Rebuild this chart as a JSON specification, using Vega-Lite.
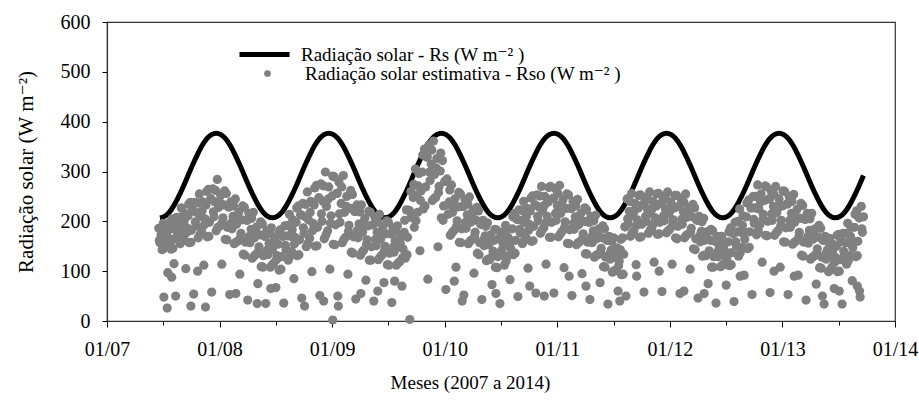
{
  "$schema": "https://vega.github.io/schema/vega-lite/v6.json",
  "autosize": "none",
  "width": 788,
  "height": 299,
  "padding": {"left": 107, "top": 22, "right": 24, "bottom": 81},
  "background": "white",
  "config": {
    "font": "Liberation Serif",
    "view": {"stroke": "#333", "strokeWidth": 1.2},
    "axis": {"grid": false, "domainColor": "#333", "domainWidth": 1.2, "tickColor": "#000", "labelColor": "#000", "titleColor": "#000", "labelFont": "Liberation Serif", "titleFont": "Liberation Serif, DejaVu Serif, serif", "labelFontSize": 20, "titleFontSize": 20, "titleFontWeight": "normal"}
  },
  "datasets": {
    "rs": [
      {"x":2007.470,"y":207},{"x":2007.512,"y":210},{"x":2007.553,"y":218},{"x":2007.595,"y":232},{"x":2007.637,"y":250},{"x":2007.678,"y":270},{"x":2007.720,"y":292},{"x":2007.762,"y":314},{"x":2007.803,"y":334},{"x":2007.845,"y":352},{"x":2007.887,"y":366},{"x":2007.928,"y":374},{"x":2007.970,"y":377},
      {"x":2008.012,"y":374},{"x":2008.053,"y":366},{"x":2008.095,"y":352},{"x":2008.137,"y":334},{"x":2008.178,"y":314},{"x":2008.220,"y":292},{"x":2008.262,"y":270},{"x":2008.303,"y":250},{"x":2008.345,"y":232},{"x":2008.387,"y":218},{"x":2008.428,"y":210},{"x":2008.470,"y":207},{"x":2008.512,"y":210},{"x":2008.553,"y":218},{"x":2008.595,"y":232},{"x":2008.637,"y":250},{"x":2008.678,"y":270},{"x":2008.720,"y":292},{"x":2008.762,"y":314},{"x":2008.803,"y":334},{"x":2008.845,"y":352},{"x":2008.887,"y":366},{"x":2008.928,"y":374},{"x":2008.970,"y":377},
      {"x":2009.012,"y":374},{"x":2009.053,"y":366},{"x":2009.095,"y":352},{"x":2009.137,"y":334},{"x":2009.178,"y":314},{"x":2009.220,"y":292},{"x":2009.262,"y":270},{"x":2009.303,"y":250},{"x":2009.345,"y":232},{"x":2009.387,"y":218},{"x":2009.428,"y":210},{"x":2009.470,"y":207},{"x":2009.512,"y":210},{"x":2009.553,"y":218},{"x":2009.595,"y":232},{"x":2009.637,"y":250},{"x":2009.678,"y":270},{"x":2009.720,"y":292},{"x":2009.762,"y":314},{"x":2009.803,"y":334},{"x":2009.845,"y":352},{"x":2009.887,"y":366},{"x":2009.928,"y":374},{"x":2009.970,"y":377},
      {"x":2010.012,"y":374},{"x":2010.053,"y":366},{"x":2010.095,"y":352},{"x":2010.137,"y":334},{"x":2010.178,"y":314},{"x":2010.220,"y":292},{"x":2010.262,"y":270},{"x":2010.303,"y":250},{"x":2010.345,"y":232},{"x":2010.387,"y":218},{"x":2010.428,"y":210},{"x":2010.470,"y":207},{"x":2010.512,"y":210},{"x":2010.553,"y":218},{"x":2010.595,"y":232},{"x":2010.637,"y":250},{"x":2010.678,"y":270},{"x":2010.720,"y":292},{"x":2010.762,"y":314},{"x":2010.803,"y":334},{"x":2010.845,"y":352},{"x":2010.887,"y":366},{"x":2010.928,"y":374},{"x":2010.970,"y":377},
      {"x":2011.012,"y":374},{"x":2011.053,"y":366},{"x":2011.095,"y":352},{"x":2011.137,"y":334},{"x":2011.178,"y":314},{"x":2011.220,"y":292},{"x":2011.262,"y":270},{"x":2011.303,"y":250},{"x":2011.345,"y":232},{"x":2011.387,"y":218},{"x":2011.428,"y":210},{"x":2011.470,"y":207},{"x":2011.512,"y":210},{"x":2011.553,"y":218},{"x":2011.595,"y":232},{"x":2011.637,"y":250},{"x":2011.678,"y":270},{"x":2011.720,"y":292},{"x":2011.762,"y":314},{"x":2011.803,"y":334},{"x":2011.845,"y":352},{"x":2011.887,"y":366},{"x":2011.928,"y":374},{"x":2011.970,"y":377},
      {"x":2012.012,"y":374},{"x":2012.053,"y":366},{"x":2012.095,"y":352},{"x":2012.137,"y":334},{"x":2012.178,"y":314},{"x":2012.220,"y":292},{"x":2012.262,"y":270},{"x":2012.303,"y":250},{"x":2012.345,"y":232},{"x":2012.387,"y":218},{"x":2012.428,"y":210},{"x":2012.470,"y":207},{"x":2012.512,"y":210},{"x":2012.553,"y":218},{"x":2012.595,"y":232},{"x":2012.637,"y":250},{"x":2012.678,"y":270},{"x":2012.720,"y":292},{"x":2012.762,"y":314},{"x":2012.803,"y":334},{"x":2012.845,"y":352},{"x":2012.887,"y":366},{"x":2012.928,"y":374},{"x":2012.970,"y":377},
      {"x":2013.012,"y":374},{"x":2013.053,"y":366},{"x":2013.095,"y":352},{"x":2013.137,"y":334},{"x":2013.178,"y":314},{"x":2013.220,"y":292},{"x":2013.262,"y":270},{"x":2013.303,"y":250},{"x":2013.345,"y":232},{"x":2013.387,"y":218},{"x":2013.428,"y":210},{"x":2013.470,"y":207},{"x":2013.512,"y":210},{"x":2013.553,"y":218},{"x":2013.595,"y":232},{"x":2013.637,"y":250},{"x":2013.678,"y":270},{"x":2013.720,"y":292}
    ],
    "rso": [
      {"x":2007.46,"y":186},{"x":2007.47,"y":157},{"x":2007.48,"y":173},{"x":2007.49,"y":143},{"x":2007.50,"y":196},{"x":2007.51,"y":169},{"x":2007.52,"y":151},{"x":2007.53,"y":186},{"x":2007.54,"y":97},
      {"x":2007.55,"y":166},{"x":2007.56,"y":184},{"x":2007.57,"y":144},{"x":2007.58,"y":205},{"x":2007.59,"y":164},{"x":2007.60,"y":195},{"x":2007.61,"y":50},{"x":2007.62,"y":208},{"x":2007.63,"y":172},{"x":2007.64,"y":193},{"x":2007.65,"y":155},{"x":2007.66,"y":227},{"x":2007.67,"y":190},{"x":2007.68,"y":166},{"x":2007.69,"y":216},
      {"x":2007.70,"y":105},{"x":2007.71,"y":187},{"x":2007.72,"y":211},{"x":2007.73,"y":157},{"x":2007.74,"y":238},{"x":2007.75,"y":182},{"x":2007.76,"y":221},{"x":2007.77,"y":54},{"x":2007.78,"y":238},{"x":2007.79,"y":191},{"x":2007.80,"y":217},{"x":2007.81,"y":167},{"x":2007.82,"y":255},{"x":2007.83,"y":210},{"x":2007.84,"y":180},
      {"x":2007.85,"y":239},{"x":2007.86,"y":112},{"x":2007.87,"y":205},{"x":2007.88,"y":233},{"x":2007.89,"y":169},{"x":2007.90,"y":264},{"x":2007.91,"y":198},{"x":2007.92,"y":245},{"x":2007.93,"y":58},{"x":2007.94,"y":265},{"x":2007.95,"y":209},{"x":2007.96,"y":239},{"x":2007.97,"y":181},
      {"x":2007.98,"y":284},{"x":2007.99,"y":228},{"x":2008.00,"y":190},{"x":2008.01,"y":252},{"x":2008.02,"y":114},{"x":2008.03,"y":207},{"x":2008.04,"y":233},{"x":2008.05,"y":164},{"x":2008.06,"y":256},{"x":2008.07,"y":188},{"x":2008.08,"y":229},{"x":2008.09,"y":53},
      {"x":2008.10,"y":239},{"x":2008.11,"y":185},{"x":2008.12,"y":210},{"x":2008.13,"y":155},{"x":2008.14,"y":245},{"x":2008.15,"y":194},{"x":2008.16,"y":160},{"x":2008.17,"y":218},{"x":2008.18,"y":94},{"x":2008.19,"y":176},{"x":2008.20,"y":203},{"x":2008.21,"y":134},{"x":2008.22,"y":228},{"x":2008.23,"y":158},{"x":2008.24,"y":202},
      {"x":2008.25,"y":42},{"x":2008.26,"y":216},{"x":2008.27,"y":157},{"x":2008.28,"y":184},{"x":2008.29,"y":126},{"x":2008.30,"y":218},{"x":2008.31,"y":167},{"x":2008.32,"y":133},{"x":2008.33,"y":189},{"x":2008.34,"y":75},{"x":2008.35,"y":149},{"x":2008.36,"y":173},{"x":2008.37,"y":109},{"x":2008.38,"y":195},{"x":2008.39,"y":131},
      {"x":2008.40,"y":170},{"x":2008.41,"y":35},{"x":2008.42,"y":182},{"x":2008.43,"y":133},{"x":2008.44,"y":156},{"x":2008.45,"y":108},{"x":2008.46,"y":187},{"x":2008.47,"y":144},{"x":2008.48,"y":116},{"x":2008.49,"y":166},{"x":2008.50,"y":67},{"x":2008.51,"y":131},
      {"x":2008.52,"y":154},{"x":2008.53,"y":102},{"x":2008.54,"y":183},{"x":2008.55,"y":129},{"x":2008.56,"y":170},{"x":2008.57,"y":36},{"x":2008.58,"y":191},{"x":2008.59,"y":143},{"x":2008.60,"y":171},{"x":2008.61,"y":122},{"x":2008.62,"y":214},{"x":2008.63,"y":170},{"x":2008.64,"y":140},
      {"x":2008.65,"y":203},{"x":2008.66,"y":85},{"x":2008.67,"y":168},{"x":2008.68,"y":198},{"x":2008.69,"y":131},{"x":2008.70,"y":231},{"x":2008.71,"y":163},{"x":2008.72,"y":213},{"x":2008.73,"y":46},{"x":2008.74,"y":236},{"x":2008.75,"y":176},{"x":2008.76,"y":209},{"x":2008.77,"y":149},{"x":2008.78,"y":259},{"x":2008.79,"y":203},
      {"x":2008.80,"y":166},{"x":2008.81,"y":240},{"x":2008.82,"y":99},{"x":2008.83,"y":196},{"x":2008.84,"y":233},{"x":2008.85,"y":150},{"x":2008.86,"y":272},{"x":2008.87,"y":188},{"x":2008.88,"y":247},{"x":2008.89,"y":51},{"x":2008.90,"y":275},{"x":2008.91,"y":200},{"x":2008.92,"y":240},{"x":2008.93,"y":165},{"x":2008.94,"y":299},
      {"x":2008.95,"y":230},{"x":2008.96,"y":181},{"x":2008.97,"y":269},{"x":2008.98,"y":104},{"x":2008.99,"y":211},{"x":2009.00,"y":251},{"x":2009.01,"y":154},{"x":2009.02,"y":289},{"x":2009.03,"y":193},{"x":2009.04,"y":256},{"x":2009.05,"y":50},{"x":2009.06,"y":279},{"x":2009.07,"y":198},{"x":2009.08,"y":236},{"x":2009.09,"y":157},
      {"x":2009.10,"y":292},{"x":2009.11,"y":218},{"x":2009.12,"y":168},{"x":2009.13,"y":250},{"x":2009.14,"y":94},{"x":2009.15,"y":192},{"x":2009.16,"y":226},{"x":2009.17,"y":138},{"x":2009.18,"y":254},{"x":2009.19,"y":169},{"x":2009.20,"y":220},{"x":2009.21,"y":44},{"x":2009.22,"y":233},{"x":2009.23,"y":167},{"x":2009.24,"y":195},
      {"x":2009.25,"y":132},{"x":2009.26,"y":233},{"x":2009.27,"y":178},{"x":2009.28,"y":142},{"x":2009.29,"y":206},{"x":2009.30,"y":82},{"x":2009.31,"y":163},{"x":2009.32,"y":191},{"x":2009.33,"y":122},{"x":2009.34,"y":218},{"x":2009.35,"y":149},{"x":2009.36,"y":193},{"x":2009.37,"y":40},{"x":2009.38,"y":208},{"x":2009.39,"y":151},{"x":2009.40,"y":178},{"x":2009.41,"y":123},{"x":2009.42,"y":214},{"x":2009.43,"y":164},{"x":2009.44,"y":132},
      {"x":2009.45,"y":189},{"x":2009.46,"y":77},{"x":2009.47,"y":150},{"x":2009.48,"y":175},{"x":2009.49,"y":113},{"x":2009.50,"y":198},{"x":2009.51,"y":136},{"x":2009.52,"y":175},{"x":2009.53,"y":37},{"x":2009.54,"y":187},{"x":2009.55,"y":138},{"x":2009.56,"y":161},{"x":2009.57,"y":112},{"x":2009.58,"y":191},{"x":2009.59,"y":148},{"x":2009.60,"y":119},{"x":2009.61,"y":169},
      {"x":2009.62,"y":70},{"x":2009.63,"y":145},{"x":2009.64,"y":178},{"x":2009.65,"y":126},{"x":2009.66,"y":223},{"x":2009.67,"y":168},{"x":2009.68,"y":222},{"x":2009.69,"y":3},{"x":2009.70,"y":260},{"x":2009.71,"y":207},
      {"x":2009.72,"y":248},{"x":2009.73,"y":188},{"x":2009.74,"y":305},{"x":2009.75,"y":252},{"x":2009.76,"y":218},{"x":2009.77,"y":296},{"x":2009.78,"y":141},{"x":2009.79,"y":261},{"x":2009.80,"y":299},{"x":2009.81,"y":225},{"x":2009.82,"y":345},{"x":2009.83,"y":269},{"x":2009.84,"y":329},
      {"x":2009.85,"y":84},{"x":2009.86,"y":353},{"x":2009.87,"y":282},{"x":2009.88,"y":315},{"x":2009.89,"y":242},{"x":2009.90,"y":361},{"x":2009.91,"y":294},{"x":2009.92,"y":248},{"x":2009.93,"y":326},{"x":2009.94,"y":149},
      {"x":2009.95,"y":270},{"x":2009.96,"y":301},{"x":2009.97,"y":207},{"x":2009.98,"y":322},{"x":2009.99,"y":231},{"x":2010.00,"y":280},{"x":2010.01,"y":63},{"x":2010.02,"y":285},{"x":2010.03,"y":214},{"x":2010.04,"y":239},
      {"x":2010.05,"y":172},{"x":2010.06,"y":273},{"x":2010.07,"y":218},{"x":2010.08,"y":181},{"x":2010.09,"y":245},{"x":2010.10,"y":108},{"x":2010.11,"y":201},{"x":2010.12,"y":229},{"x":2010.13,"y":158},{"x":2010.14,"y":255},{"x":2010.15,"y":185},{"x":2010.16,"y":230},{"x":2010.17,"y":52},{"x":2010.18,"y":244},{"x":2010.19,"y":186},{"x":2010.20,"y":213},{"x":2010.21,"y":155},{"x":2010.22,"y":249},{"x":2010.23,"y":198},{"x":2010.24,"y":163},
      {"x":2010.25,"y":223},{"x":2010.26,"y":96},{"x":2010.27,"y":178},{"x":2010.28,"y":202},{"x":2010.29,"y":136},{"x":2010.30,"y":221},{"x":2010.31,"y":157},{"x":2010.32,"y":194},{"x":2010.33,"y":43},{"x":2010.34,"y":202},{"x":2010.35,"y":151},{"x":2010.36,"y":171},{"x":2010.37,"y":121},{"x":2010.38,"y":197},{"x":2010.39,"y":153},
      {"x":2010.40,"y":123},{"x":2010.41,"y":173},{"x":2010.42,"y":73},{"x":2010.43,"y":140},{"x":2010.44,"y":162},{"x":2010.45,"y":108},{"x":2010.46,"y":183},{"x":2010.47,"y":129},{"x":2010.48,"y":165},{"x":2010.49,"y":35},{"x":2010.50,"y":178},{"x":2010.51,"y":132},
      {"x":2010.52,"y":154},{"x":2010.53,"y":112},{"x":2010.54,"y":192},{"x":2010.55,"y":155},{"x":2010.56,"y":130},{"x":2010.57,"y":184},{"x":2010.58,"y":83},{"x":2010.59,"y":159},{"x":2010.60,"y":185},{"x":2010.61,"y":133},{"x":2010.62,"y":216},{"x":2010.63,"y":162},{"x":2010.64,"y":204},
      {"x":2010.65,"y":49},{"x":2010.66,"y":223},{"x":2010.67,"y":177},{"x":2010.68,"y":202},{"x":2010.69,"y":155},{"x":2010.70,"y":240},{"x":2010.71,"y":198},{"x":2010.72,"y":169},{"x":2010.73,"y":226},{"x":2010.74,"y":106},{"x":2010.75,"y":194},{"x":2010.76,"y":221},{"x":2010.77,"y":160},{"x":2010.78,"y":251},{"x":2010.79,"y":190},{"x":2010.80,"y":233},{"x":2010.81,"y":56},{"x":2010.82,"y":253},{"x":2010.83,"y":201},{"x":2010.84,"y":229},
      {"x":2010.85,"y":176},{"x":2010.86,"y":270},{"x":2010.87,"y":221},{"x":2010.88,"y":187},{"x":2010.89,"y":250},{"x":2010.90,"y":114},{"x":2010.91,"y":210},{"x":2010.92,"y":239},{"x":2010.93,"y":168},{"x":2010.94,"y":270},{"x":2010.95,"y":198},{"x":2010.96,"y":246},{"x":2010.97,"y":56},
      {"x":2010.98,"y":266},{"x":2010.99,"y":202},{"x":2011.00,"y":232},{"x":2011.01,"y":169},{"x":2011.02,"y":272},{"x":2011.03,"y":216},{"x":2011.04,"y":179},{"x":2011.05,"y":243},{"x":2011.06,"y":107},{"x":2011.07,"y":199},{"x":2011.08,"y":226},{"x":2011.09,"y":156},{"x":2011.10,"y":253},{"x":2011.11,"y":183},{"x":2011.12,"y":226},{"x":2011.13,"y":51},{"x":2011.14,"y":240},
      {"x":2011.15,"y":184},{"x":2011.16,"y":209},{"x":2011.17,"y":153},{"x":2011.18,"y":244},{"x":2011.19,"y":193},{"x":2011.20,"y":159},{"x":2011.21,"y":216},{"x":2011.22,"y":95},{"x":2011.23,"y":175},{"x":2011.24,"y":200},{"x":2011.25,"y":135},{"x":2011.26,"y":223},{"x":2011.27,"y":158},{"x":2011.28,"y":198},{"x":2011.29,"y":43},{"x":2011.30,"y":210},{"x":2011.31,"y":157},{"x":2011.32,"y":181},{"x":2011.33,"y":128},{"x":2011.34,"y":212},
      {"x":2011.35,"y":165},{"x":2011.36,"y":133},{"x":2011.37,"y":185},{"x":2011.38,"y":77},{"x":2011.39,"y":146},{"x":2011.40,"y":167},{"x":2011.41,"y":109},{"x":2011.42,"y":185},{"x":2011.43,"y":128},{"x":2011.44,"y":162},{"x":2011.45,"y":34},{"x":2011.46,"y":170},{"x":2011.47,"y":124},{"x":2011.48,"y":143},{"x":2011.49,"y":98},{"x":2011.50,"y":167},{"x":2011.51,"y":128},
      {"x":2011.52,"y":101},{"x":2011.53,"y":147},{"x":2011.54,"y":60},{"x":2011.55,"y":120},{"x":2011.56,"y":143},{"x":2011.57,"y":93},{"x":2011.58,"y":167},{"x":2011.59,"y":134},{"x":2011.60,"y":189},{"x":2011.61,"y":50},
      {"x":2011.62,"y":245},{"x":2011.63,"y":195},{"x":2011.64,"y":220},{"x":2011.65,"y":170},{"x":2011.66,"y":256},{"x":2011.67,"y":211},{"x":2011.68,"y":181},{"x":2011.69,"y":236},{"x":2011.70,"y":113},{"x":2011.71,"y":203},{"x":2011.72,"y":227},{"x":2011.73,"y":168},{"x":2011.74,"y":253},{"x":2011.75,"y":194},{"x":2011.76,"y":234},{"x":2011.77,"y":58},{"x":2011.78,"y":248},{"x":2011.79,"y":200},{"x":2011.80,"y":225},{"x":2011.81,"y":176},{"x":2011.82,"y":259},{"x":2011.83,"y":216},{"x":2011.84,"y":187},{"x":2011.85,"y":240},{"x":2011.86,"y":118},{"x":2011.87,"y":207},{"x":2011.88,"y":231},{"x":2011.89,"y":174},
      {"x":2011.90,"y":256},{"x":2011.91,"y":198},{"x":2011.92,"y":236},{"x":2011.93,"y":59},{"x":2011.94,"y":250},{"x":2011.95,"y":201},{"x":2011.96,"y":225},{"x":2011.97,"y":177},{"x":2011.98,"y":259},{"x":2011.99,"y":215},{"x":2012.00,"y":184},{"x":2012.01,"y":238},{"x":2012.02,"y":114},{"x":2012.03,"y":203},{"x":2012.04,"y":227},{"x":2012.05,"y":167},{"x":2012.06,"y":252},{"x":2012.07,"y":190},{"x":2012.08,"y":230},{"x":2012.09,"y":55},{"x":2012.10,"y":245},{"x":2012.11,"y":194},{"x":2012.12,"y":219},{"x":2012.13,"y":167},{"x":2012.14,"y":255},
      {"x":2012.15,"y":208},{"x":2012.16,"y":174},{"x":2012.17,"y":228},{"x":2012.18,"y":104},{"x":2012.19,"y":186},{"x":2012.20,"y":209},{"x":2012.21,"y":145},{"x":2012.22,"y":227},{"x":2012.23,"y":165},{"x":2012.24,"y":202},{"x":2012.25,"y":46},{"x":2012.26,"y":210},{"x":2012.27,"y":159},{"x":2012.28,"y":180},{"x":2012.29,"y":130},{"x":2012.30,"y":206},{"x":2012.31,"y":162},{"x":2012.32,"y":131},{"x":2012.33,"y":179},{"x":2012.34,"y":75},
      {"x":2012.35,"y":141},{"x":2012.36,"y":162},{"x":2012.37,"y":108},{"x":2012.38,"y":181},{"x":2012.39,"y":129},{"x":2012.40,"y":160},{"x":2012.41,"y":36},{"x":2012.42,"y":170},{"x":2012.43,"y":129},{"x":2012.44,"y":148},{"x":2012.45,"y":109},{"x":2012.46,"y":170},{"x":2012.47,"y":136},
      {"x":2012.48,"y":114},{"x":2012.49,"y":156},{"x":2012.50,"y":72},{"x":2012.51,"y":136},{"x":2012.52,"y":159},{"x":2012.53,"y":111},{"x":2012.54,"y":187},{"x":2012.55,"y":137},{"x":2012.56,"y":176},{"x":2012.57,"y":39},{"x":2012.58,"y":198},{"x":2012.59,"y":151},{"x":2012.60,"y":179},{"x":2012.61,"y":130},
      {"x":2012.62,"y":225},{"x":2012.63,"y":178},{"x":2012.64,"y":148},{"x":2012.65,"y":211},{"x":2012.66,"y":92},{"x":2012.67,"y":178},{"x":2012.68,"y":209},{"x":2012.69,"y":145},{"x":2012.70,"y":243},{"x":2012.71,"y":179},{"x":2012.72,"y":227},{"x":2012.73,"y":53},{"x":2012.74,"y":250},{"x":2012.75,"y":196},{"x":2012.76,"y":227},{"x":2012.77,"y":173},{"x":2012.78,"y":273},{"x":2012.79,"y":225},
      {"x":2012.80,"y":193},{"x":2012.81,"y":255},{"x":2012.82,"y":118},{"x":2012.83,"y":214},{"x":2012.84,"y":242},{"x":2012.85,"y":172},{"x":2012.86,"y":269},{"x":2012.87,"y":200},{"x":2012.88,"y":245},{"x":2012.89,"y":57},{"x":2012.90,"y":261},{"x":2012.91,"y":202},{"x":2012.92,"y":230},{"x":2012.93,"y":172},{"x":2012.94,"y":270},{"x":2012.95,"y":217},{"x":2012.96,"y":181},{"x":2012.97,"y":245},{"x":2012.98,"y":108},{"x":2012.99,"y":202},{"x":2013.00,"y":231},{"x":2013.01,"y":159},{"x":2013.02,"y":260},{"x":2013.03,"y":187},{"x":2013.04,"y":235},
      {"x":2013.05,"y":53},{"x":2013.06,"y":250},{"x":2013.07,"y":188},{"x":2013.08,"y":216},{"x":2013.09,"y":154},{"x":2013.10,"y":254},{"x":2013.11,"y":198},{"x":2013.12,"y":160},{"x":2013.13,"y":224},{"x":2013.14,"y":92},{"x":2013.15,"y":178},{"x":2013.16,"y":206},{"x":2013.17,"y":132},{"x":2013.18,"y":232},{"x":2013.19,"y":158},
      {"x":2013.20,"y":204},{"x":2013.21,"y":42},{"x":2013.22,"y":216},{"x":2013.23,"y":156},{"x":2013.24,"y":182},{"x":2013.25,"y":124},{"x":2013.26,"y":216},{"x":2013.27,"y":164},{"x":2013.28,"y":130},{"x":2013.29,"y":185},{"x":2013.30,"y":74},{"x":2013.31,"y":145},{"x":2013.32,"y":168},{"x":2013.33,"y":107},{"x":2013.34,"y":186},{"x":2013.35,"y":128},{"x":2013.36,"y":162},{"x":2013.37,"y":34},{"x":2013.38,"y":170},{"x":2013.39,"y":124},{"x":2013.40,"y":143},{"x":2013.41,"y":99},
      {"x":2013.42,"y":166},{"x":2013.43,"y":131},{"x":2013.44,"y":108},{"x":2013.45,"y":154},{"x":2013.46,"y":65},{"x":2013.47,"y":128},{"x":2013.48,"y":150},{"x":2013.49,"y":99},{"x":2013.50,"y":174},{"x":2013.51,"y":123},{"x":2013.52,"y":160},{"x":2013.53,"y":34},{"x":2013.54,"y":176},
      {"x":2013.55,"y":132},{"x":2013.56,"y":157},{"x":2013.57,"y":114},{"x":2013.58,"y":196},{"x":2013.59,"y":157},{"x":2013.60,"y":131},{"x":2013.61,"y":188},{"x":2013.62,"y":81},{"x":2013.63,"y":159},{"x":2013.64,"y":188},{"x":2013.65,"y":129},{"x":2013.66,"y":221},{"x":2013.67,"y":160},{"x":2013.68,"y":207},{"x":2013.69,"y":48},{"x":2013.70,"y":230},{"x":2013.71,"y":178},{"x":2013.72,"y":209},
      {"x":2007.505,"y":48},{"x":2007.535,"y":26},{"x":2007.575,"y":88},{"x":2007.595,"y":115},{"x":2007.745,"y":30},{"x":2007.805,"y":100},{"x":2007.875,"y":28},{"x":2008.145,"y":55},{"x":2008.335,"y":35},{"x":2008.455,"y":65},{"x":2008.755,"y":30},{"x":2008.925,"y":40},{"x":2009.005,"y":2},{"x":2009.055,"y":30},{"x":2009.255,"y":55},{"x":2009.405,"y":60},{"x":2009.555,"y":80},{"x":2010.085,"y":80},{"x":2010.155,"y":40},{"x":2010.455,"y":55},{"x":2010.755,"y":70},{"x":2010.885,"y":50},{"x":2011.105,"y":90},{"x":2011.255,"y":70},{"x":2011.555,"y":40},{"x":2011.705,"y":90},{"x":2011.905,"y":100},{"x":2012.125,"y":60},{"x":2012.305,"y":55},{"x":2012.625,"y":90},{"x":2012.925,"y":100},{"x":2013.105,"y":90},{"x":2013.355,"y":50},{"x":2013.505,"y":60},{"x":2013.685,"y":60},{"x":2013.665,"y":70},
      {"x":2007.465,"y":162},{"x":2007.485,"y":185},{"x":2007.505,"y":146},{"x":2007.525,"y":176},{"x":2007.545,"y":158},{"x":2007.565,"y":200},{"x":2007.585,"y":146},{"x":2007.605,"y":195},{"x":2007.625,"y":178},{"x":2007.645,"y":208},{"x":2007.665,"y":160},{"x":2007.685,"y":201},{"x":2007.705,"y":177},{"x":2007.725,"y":234},{"x":2007.745,"y":158},{"x":2007.765,"y":221},{"x":2007.785,"y":199},{"x":2007.805,"y":237},{"x":2007.825,"y":173},{"x":2007.845,"y":221},{"x":2007.865,"y":193},{"x":2007.885,"y":260},{"x":2007.905,"y":170},{"x":2007.925,"y":245},{"x":2007.945,"y":219},{"x":2007.965,"y":262},{"x":2007.985,"y":188},
      {"x":2008.005,"y":237},{"x":2008.025,"y":198},{"x":2008.045,"y":261},{"x":2008.065,"y":163},{"x":2008.085,"y":229},{"x":2008.105,"y":197},{"x":2008.125,"y":231},{"x":2008.145,"y":158},{"x":2008.165,"y":203},{"x":2008.185,"y":167},{"x":2008.205,"y":231},{"x":2008.225,"y":132},{"x":2008.245,"y":202},{"x":2008.265,"y":170},{"x":2008.285,"y":206},{"x":2008.305,"y":130},{"x":2008.325,"y":176},{"x":2008.345,"y":140},{"x":2008.365,"y":199},{"x":2008.385,"y":108},{"x":2008.405,"y":170},{"x":2008.425,"y":143},{"x":2008.445,"y":176},{"x":2008.465,"y":112},{"x":2008.485,"y":153},{"x":2008.505,"y":123},{"x":2008.525,"y":176},{"x":2008.545,"y":104},{"x":2008.565,"y":170},{"x":2008.585,"y":152},{"x":2008.605,"y":192},{"x":2008.625,"y":130},{"x":2008.645,"y":183},{"x":2008.665,"y":155},{"x":2008.685,"y":227},{"x":2008.705,"y":133},{"x":2008.725,"y":213},{"x":2008.745,"y":187},{"x":2008.765,"y":234},{"x":2008.785,"y":156},{"x":2008.805,"y":218},{"x":2008.825,"y":181},{"x":2008.845,"y":267},{"x":2008.865,"y":151},{"x":2008.885,"y":247},{"x":2008.905,"y":215},{"x":2008.925,"y":271},{"x":2008.945,"y":173},{"x":2008.965,"y":245},{"x":2008.985,"y":196},
      {"x":2009.005,"y":291},{"x":2009.025,"y":153},{"x":2009.045,"y":256},{"x":2009.065,"y":215},{"x":2009.085,"y":269},{"x":2009.105,"y":164},{"x":2009.125,"y":230},{"x":2009.145,"y":180},{"x":2009.165,"y":262},{"x":2009.185,"y":136},{"x":2009.205,"y":220},{"x":2009.225,"y":182},{"x":2009.245,"y":219},{"x":2009.265,"y":138},{"x":2009.285,"y":189},{"x":2009.305,"y":153},{"x":2009.325,"y":220},{"x":2009.345,"y":122},{"x":2009.365,"y":193},{"x":2009.385,"y":164},{"x":2009.405,"y":199},{"x":2009.425,"y":128},{"x":2009.445,"y":174},{"x":2009.465,"y":141},{"x":2009.485,"y":201},{"x":2009.505,"y":112},{"x":2009.525,"y":175},{"x":2009.545,"y":149},{"x":2009.565,"y":180},{"x":2009.585,"y":116},{"x":2009.605,"y":156},{"x":2009.625,"y":127},{"x":2009.645,"y":202},{"x":2009.665,"y":133},{"x":2009.685,"y":222},{"x":2009.705,"y":211},{"x":2009.725,"y":274},{"x":2009.745,"y":201},{"x":2009.765,"y":271},{"x":2009.785,"y":242},{"x":2009.805,"y":333},{"x":2009.825,"y":231},{"x":2009.845,"y":329},{"x":2009.865,"y":299},{"x":2009.885,"y":343},{"x":2009.905,"y":246},{"x":2009.925,"y":307},{"x":2009.945,"y":258},{"x":2009.965,"y":337},{"x":2009.985,"y":202},
      {"x":2010.005,"y":280},{"x":2010.025,"y":233},{"x":2010.045,"y":263},{"x":2010.065,"y":177},{"x":2010.085,"y":228},{"x":2010.105,"y":190},{"x":2010.125,"y":258},{"x":2010.145,"y":157},{"x":2010.165,"y":230},{"x":2010.185,"y":198},{"x":2010.205,"y":235},{"x":2010.225,"y":160},{"x":2010.245,"y":208},{"x":2010.265,"y":170},{"x":2010.285,"y":228},{"x":2010.305,"y":133},{"x":2010.325,"y":194},{"x":2010.345,"y":163},{"x":2010.365,"y":190},{"x":2010.385,"y":124},{"x":2010.405,"y":159},{"x":2010.425,"y":131},{"x":2010.445,"y":184},{"x":2010.465,"y":107},{"x":2010.485,"y":165},{"x":2010.505,"y":142},{"x":2010.525,"y":172},{"x":2010.545,"y":120},{"x":2010.565,"y":167},{"x":2010.585,"y":146},{"x":2010.605,"y":209},{"x":2010.625,"y":136},{"x":2010.645,"y":204},{"x":2010.665,"y":184},{"x":2010.685,"y":222},{"x":2010.705,"y":161},{"x":2010.725,"y":209},{"x":2010.745,"y":182},{"x":2010.765,"y":247},{"x":2010.785,"y":161},{"x":2010.805,"y":233},{"x":2010.825,"y":210},{"x":2010.845,"y":251},{"x":2010.865,"y":182},{"x":2010.885,"y":232},{"x":2010.905,"y":198},{"x":2010.925,"y":268},{"x":2010.945,"y":168},{"x":2010.965,"y":246},{"x":2010.985,"y":216},
      {"x":2011.005,"y":256},{"x":2011.025,"y":174},{"x":2011.045,"y":226},{"x":2011.065,"y":188},{"x":2011.085,"y":255},{"x":2011.105,"y":155},{"x":2011.125,"y":226},{"x":2011.145,"y":196},{"x":2011.165,"y":231},{"x":2011.185,"y":157},{"x":2011.205,"y":202},{"x":2011.225,"y":166},{"x":2011.245,"y":227},{"x":2011.265,"y":134},{"x":2011.285,"y":198},{"x":2011.305,"y":169},{"x":2011.325,"y":201},{"x":2011.345,"y":132},{"x":2011.365,"y":172},{"x":2011.385,"y":139},{"x":2011.405,"y":191},{"x":2011.425,"y":108},{"x":2011.445,"y":162},{"x":2011.465,"y":135},{"x":2011.485,"y":160},{"x":2011.505,"y":101},{"x":2011.525,"y":133},{"x":2011.545,"y":111},{"x":2011.565,"y":164},{"x":2011.585,"y":94},{"x":2011.605,"y":189},{"x":2011.625,"y":205},{"x":2011.645,"y":240},{"x":2011.665,"y":176},{"x":2011.685,"y":221},{"x":2011.705,"y":192},{"x":2011.725,"y":252},{"x":2011.745,"y":169},{"x":2011.765,"y":234},{"x":2011.785,"y":210},{"x":2011.805,"y":244},{"x":2011.825,"y":182},{"x":2011.845,"y":226},{"x":2011.865,"y":197},{"x":2011.885,"y":255},{"x":2011.905,"y":175},{"x":2011.925,"y":236},{"x":2011.945,"y":211},{"x":2011.965,"y":245},{"x":2011.985,"y":181},
      {"x":2012.005,"y":223},{"x":2012.025,"y":194},{"x":2012.045,"y":252},{"x":2012.065,"y":165},{"x":2012.085,"y":230},{"x":2012.105,"y":204},{"x":2012.125,"y":239},{"x":2012.145,"y":172},{"x":2012.165,"y":215},{"x":2012.185,"y":179},{"x":2012.205,"y":234},{"x":2012.225,"y":143},{"x":2012.245,"y":202},{"x":2012.265,"y":171},{"x":2012.285,"y":199},{"x":2012.305,"y":132},{"x":2012.325,"y":168},{"x":2012.345,"y":135},{"x":2012.365,"y":184},{"x":2012.385,"y":108},{"x":2012.405,"y":160},{"x":2012.425,"y":139},{"x":2012.445,"y":163},{"x":2012.465,"y":112},{"x":2012.485,"y":142},{"x":2012.505,"y":126},{"x":2012.525,"y":179},{"x":2012.545,"y":113},{"x":2012.565,"y":176},{"x":2012.585,"y":159},{"x":2012.605,"y":200},{"x":2012.625,"y":137},{"x":2012.645,"y":192},{"x":2012.665,"y":164},{"x":2012.685,"y":237},{"x":2012.705,"y":148},{"x":2012.725,"y":227},{"x":2012.745,"y":204},{"x":2012.765,"y":250},{"x":2012.785,"y":181},{"x":2012.805,"y":239},{"x":2012.825,"y":203},{"x":2012.845,"y":271},{"x":2012.865,"y":171},{"x":2012.885,"y":245},{"x":2012.905,"y":215},{"x":2012.925,"y":254},{"x":2012.945,"y":177},{"x":2012.965,"y":228},{"x":2012.985,"y":191},
      {"x":2013.005,"y":261},{"x":2013.025,"y":158},{"x":2013.045,"y":235},{"x":2013.065,"y":202},{"x":2013.085,"y":240},{"x":2013.105,"y":158},{"x":2013.125,"y":208},{"x":2013.145,"y":168},{"x":2013.165,"y":236},{"x":2013.185,"y":130},{"x":2013.205,"y":204},{"x":2013.225,"y":170},{"x":2013.245,"y":205},{"x":2013.265,"y":128},{"x":2013.285,"y":173},{"x":2013.305,"y":137},{"x":2013.325,"y":192},{"x":2013.345,"y":106},{"x":2013.365,"y":162},{"x":2013.385,"y":135},{"x":2013.405,"y":159},{"x":2013.425,"y":102},{"x":2013.445,"y":141},{"x":2013.465,"y":118},{"x":2013.485,"y":172},{"x":2013.505,"y":100},{"x":2013.525,"y":160},{"x":2013.545,"y":140},{"x":2013.565,"y":176},{"x":2013.585,"y":121},{"x":2013.605,"y":170},{"x":2013.625,"y":147},{"x":2013.645,"y":214},{"x":2013.665,"y":131},{"x":2013.685,"y":207},{"x":2013.705,"y":185}
    ]
  },
  "layer": [
    {
      "data": {"name": "rs"},
      "mark": {"type": "line", "strokeWidth": 5, "interpolate": "monotone"},
      "encoding": {
        "x": {"field": "x", "type": "quantitative",
              "scale": {"domain": [2007, 2014], "nice": false, "zero": false},
              "axis": {"title": "Meses (2007 a 2014)", "titleFontSize": 19, "titleX": 363, "values": [2007,2007.25,2007.5,2007.75,2008,2008.25,2008.5,2008.75,2009,2009.25,2009.5,2009.75,2010,2010.25,2010.5,2010.75,2011,2011.25,2011.5,2011.75,2012,2012.25,2012.5,2012.75,2013,2013.25,2013.5,2013.75,2014],
                       "labelExpr": "datum.value % 1 === 0 ? '01/' + slice(toString(datum.value), 2) : ''",
                       "labelOverlap": false, "labelFlush": false, "labelPadding": 12, "titlePadding": 14,
                       "tickSize": {"condition": {"test": "datum.value % 1 === 0", "value": 6}, "value": 4}}},
        "y": {"field": "y", "type": "quantitative",
              "scale": {"domain": [0, 600], "nice": false},
              "axis": {"title": "Radiação solar (W m⁻²)", "titleFontSize": 21, "values": [0,100,200,300,400,500,600], "tickSize": 5, "labelPadding": 12, "titlePadding": 24}},
        "stroke": {"datum": "Radiação solar - Rs (W m⁻² )", "type": "nominal",
                   "scale": {"range": ["#000000"]},
                   "legend": {"title": null, "orient": "none", "legendX": 130, "legendY": 5, "symbolType": "stroke", "symbolSize": 2500, "symbolStrokeWidth": 5, "symbolStrokeColor": "#000", "labelFont": "Liberation Serif, DejaVu Serif, serif", "labelFontSize": 19, "labelColor": "#000", "labelOffset": 9, "padding": 0, "labelLimit": 600}}
      }
    },
    {
      "data": {"name": "rso"},
      "mark": {"type": "point", "filled": true, "size": 85, "opacity": 1, "shape": "circle"},
      "encoding": {
        "x": {"field": "x", "type": "quantitative"},
        "y": {"field": "y", "type": "quantitative"},
        "fill": {"datum": "Radiação solar estimativa - Rso (W m⁻² )", "type": "nominal",
                 "scale": {"range": ["#808080"]},
                 "legend": {"title": null, "orient": "none", "legendX": 151, "legendY": 42, "symbolType": "circle", "symbolSize": 45, "symbolStrokeWidth": 0, "labelFont": "Liberation Serif, DejaVu Serif, serif", "labelFontSize": 19, "labelColor": "#000", "labelOffset": 28, "padding": 0, "labelLimit": 600}}
      }
    }
  ]
}
